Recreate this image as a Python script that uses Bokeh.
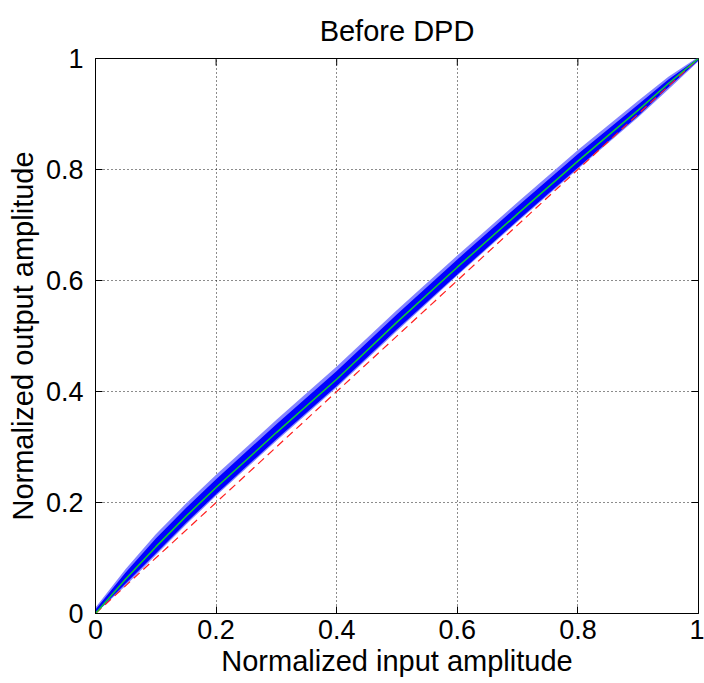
import math
from bokeh.plotting import figure
from bokeh.models import FixedTicker, Range1d
from bokeh.embed import file_html
from bokeh.resources import INLINE

# ---- data ----
x_pts = [0.0, 0.05, 0.1, 0.15, 0.2, 0.3, 0.4, 0.5, 0.6, 0.7, 0.8, 0.9, 0.95, 1.0]
center = [0.0, 0.062, 0.120, 0.175, 0.227, 0.326, 0.422, 0.525, 0.624, 0.720, 0.815, 0.907, 0.955, 1.0]
outer_hi = [0.011, 0.080, 0.143, 0.198, 0.250, 0.349, 0.445, 0.547, 0.645, 0.741, 0.835, 0.924, 0.967, 1.003]
outer_lo = [0.0, 0.050, 0.105, 0.160, 0.212, 0.311, 0.407, 0.509, 0.609, 0.706, 0.801, 0.894, 0.944, 0.995]
inner_hi = [0.007, 0.074, 0.135, 0.190, 0.242, 0.341, 0.437, 0.539, 0.638, 0.734, 0.828, 0.917, 0.962, 1.001]
inner_lo = [0.0, 0.054, 0.108, 0.163, 0.215, 0.314, 0.410, 0.512, 0.611, 0.708, 0.803, 0.897, 0.948, 0.997]
ideal_x = [0.0, 1.0]
ideal_y = [0.0, 1.0]
tick_vals = [0, 0.2, 0.4, 0.6, 0.8, 1]
tick_labels = ["0", "0.2", "0.4", "0.6", "0.8", "1"]

FONT = "Liberation Sans"
X0, X1, Y0, Y1 = 0, 1, 0, 1

p = figure(width=704, height=683, x_range=Range1d(X0, X1), y_range=Range1d(Y0, Y1),
           output_backend="svg", toolbar_location=None,
           min_border_left=95, min_border_right=6, min_border_top=58, min_border_bottom=70)

p.background_fill_color = "white"
p.border_fill_color = "white"
p.outline_line_color = "black"
p.outline_line_width = 1

# band (outer fringe and dense core)
p.varea(x=x_pts, y1=outer_lo, y2=outer_hi, fill_color="#8585ff", fill_alpha=1.0)
p.varea(x=x_pts, y1=inner_lo, y2=inner_hi, fill_color="#0000ff", fill_alpha=1.0)
# ideal linear reference
p.line(ideal_x, ideal_y, line_color="#ff2020", line_width=1.2, line_dash="8 5")
# fitted curve
p.line(x_pts, center, line_color="#11cc33", line_width=1.5)

# inward tick marks on the top and right edges of the box
p.scatter(x=tick_vals, y=[Y1] * len(tick_vals), marker="dash", angle=math.pi / 2,
          size=14, line_color="black", line_width=1)
p.scatter(x=[X1] * len(tick_vals), y=tick_vals, marker="dash",
          size=14, line_color="black", line_width=1)

# title
p.title.text = "Before DPD"
p.title.align = "center"
p.title.vertical_align = "top"
p.title.text_font = FONT
p.title.text_font_size = "29px"
p.title.text_font_style = "normal"
p.title.text_color = "black"
p.title.standoff = 20

ticker = FixedTicker(ticks=tick_vals)
overrides = {v: l for v, l in zip(tick_vals, tick_labels)}

for ax in (p.xaxis[0], p.yaxis[0]):
    ax.ticker = ticker
    ax.major_label_overrides = overrides
    ax.major_tick_in = 7
    ax.major_tick_out = 0
    ax.minor_tick_in = 0
    ax.minor_tick_out = 0
    ax.axis_line_color = "black"
    ax.major_tick_line_color = "black"
    ax.major_label_text_font = FONT
    ax.major_label_text_font_size = "27px"
    ax.major_label_text_color = "black"
    ax.axis_label_text_font = FONT
    ax.axis_label_text_font_size = "29px"
    ax.axis_label_text_font_style = "normal"
    ax.axis_label_text_color = "black"

p.xaxis[0].axis_label = "Normalized input amplitude"
p.yaxis[0].axis_label = "Normalized output amplitude"
p.xaxis[0].major_label_standoff = 6
p.xaxis[0].axis_label_standoff = 3
p.yaxis[0].major_label_standoff = 12
p.yaxis[0].axis_label_standoff = 4

for g in (p.xgrid[0], p.ygrid[0]):
    g.ticker = ticker
    g.grid_line_color = "black"
    g.grid_line_dash = "1 3"
    g.grid_line_width = 1
    g.grid_line_alpha = 0.9

open("out.html", "w").write(file_html(p, INLINE))
